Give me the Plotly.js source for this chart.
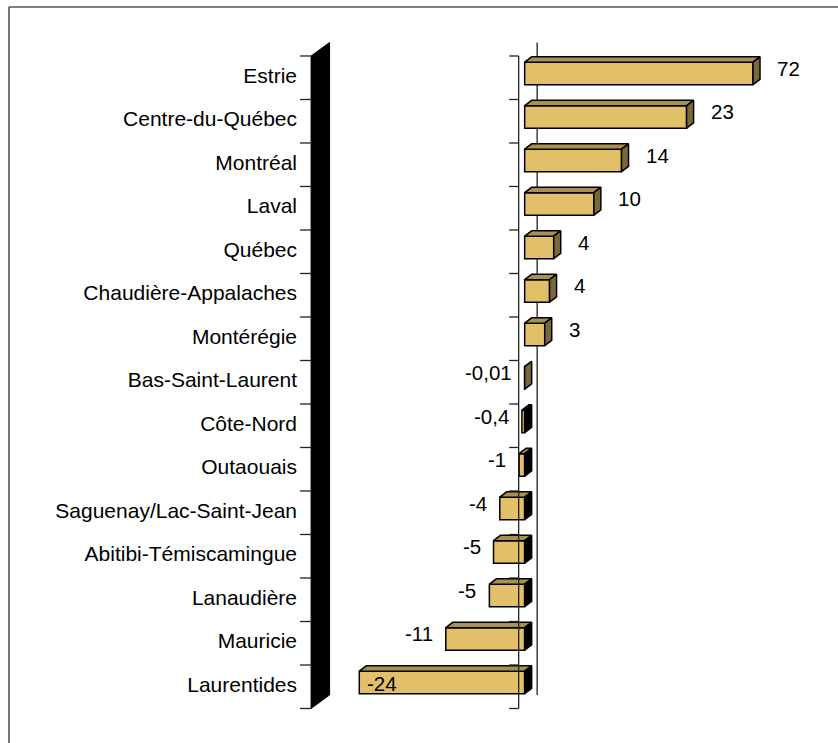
<!DOCTYPE html>
<html><head><meta charset="utf-8">
<script src="https://cdn.plot.ly/plotly-3.0.1.min.js"></script>
<style>html,body{margin:0;padding:0;background:#fff}#chart{width:838px;height:743px}</style>
</head><body><div id="chart"></div>
<script>
const regions = ["Estrie","Centre-du-Québec","Montréal","Laval","Québec","Chaudière-Appalaches","Montérégie","Bas-Saint-Laurent","Côte-Nord","Outaouais","Saguenay/Lac-Saint-Jean","Abitibi-Témiscamingue","Lanaudière","Mauricie","Laurentides"];
const values = [72, 23.4, 14.0, 10.0, 4.2, 3.6, 2.9, -0.01, -0.4, -0.8, -3.6, -4.5, -5.1, -11.4, -23.9];
const valueLabels = ["72","23","14","10","4","4","3","-0,01","-0,4","-1","-4","-5","-5","-11","-24"];

// axis settings
const AXIS_MIN = -30, AXIS_MAX = 33;
const X_RANGE = [-31.6, 46.15];
const Y_RANGE = [15.293, -1.787];
const W = 838, H = 743, ML = 300;
const PW = W - ML, PH = H;
const pxX = PW / (X_RANGE[1] - X_RANGE[0]);
const pxY = PH / (Y_RANGE[0] - Y_RANGE[1]);
const dx = p => p / pxX;          // pixels right -> value units
const dy = p => -p / pxY;         // pixels up -> category units

const FRONT = '#E2C06A', TOP = '#A89050', SIDE_POS = '#7A6838', SIDE_NEG = '#000000';
const FONT = 'Liberation Sans, Arial, sans-serif';

const n = regions.length;
const idx = regions.map((_, i) => i);
const BF = {x: dx(6), y: dy(4.3)};     // bar front plane offset
const BD = {x: dx(7), y: dy(5.4)};     // bar depth
const DEPTH = {x: dx(18.5), y: dy(13.5)}; // full chart depth
const HALF = 11.25 / pxY;
const clamp = v => Math.max(AXIS_MIN, Math.min(AXIS_MAX, v));

const topX = [], topY = [], sposX = [], sposY = [], snegX = [], snegY = [];
values.forEach((v, i) => {
  const c = clamp(v);
  const x0 = Math.min(0, c) + BF.x, x1 = Math.max(0, c) + BF.x;
  const yt = i + BF.y - HALF, yb = i + BF.y + HALF;
  topX.push(x0, x1, x1 + BD.x, x0 + BD.x, x0, null);
  topY.push(yt, yt, yt + BD.y, yt + BD.y, yt, null);
  const sx = (v <= -0.1) ? snegX : sposX, sy = (v <= -0.1) ? snegY : sposY;
  sx.push(x1, x1 + BD.x, x1 + BD.x, x1, x1, null);
  sy.push(yt, yt + BD.y, yb + BD.y, yb, yt, null);
});

const poly = (x, y, color) => ({type: 'scatter', mode: 'lines', x, y, fill: 'toself', fillcolor: color,
  line: {color: '#000', width: 1.5}, hoverinfo: 'skip', showlegend: false});

const traces = [
  {type: 'bar', orientation: 'h', y: idx.map(i => i + BF.y), x: values.map(clamp), base: BF.x,
   width: 2 * HALF, marker: {color: FRONT, line: {color: '#000', width: 1.5}}, hoverinfo: 'skip', showlegend: false},
  poly(topX, topY, TOP),
  poly(sposX, sposY, SIDE_POS),
  poly(snegX, snegY, SIDE_NEG)
];

const shapes = [];
const yTop = -0.5, yBot = n - 0.5;
// wall (floor) at axis minimum
shapes.push({type: 'path', xref: 'x', yref: 'y', layer: 'below', fillcolor: '#000', line: {color: '#000', width: 1},
  path: `M${AXIS_MIN},${yTop} L${AXIS_MIN + DEPTH.x},${yTop + DEPTH.y} L${AXIS_MIN + DEPTH.x},${yBot + DEPTH.y} L${AXIS_MIN},${yBot} Z`});
// back zero line
shapes.push({type: 'line', xref: 'x', yref: 'y', layer: 'below', x0: DEPTH.x, x1: DEPTH.x, y0: yTop + DEPTH.y, y1: yBot + DEPTH.y,
  line: {color: '#222', width: 1.3}});
// front zero line (above bars)
shapes.push({type: 'line', xref: 'x', yref: 'y', layer: 'above', x0: 0, x1: 0, y0: yTop, y1: yBot, line: {color: '#222', width: 1.3}});
for (let k = 0; k <= n; k++) {
  const yk = k - 0.5;
  shapes.push({type: 'line', xref: 'x', yref: 'y', layer: 'above', x0: -dx(9.5), x1: 0, y0: yk, y1: yk, line: {color: '#222', width: 1.3}});
  shapes.push({type: 'line', xref: 'x', yref: 'y', layer: 'below', x0: AXIS_MIN - dx(11), x1: AXIS_MIN, y0: yk, y1: yk, line: {color: '#222', width: 1.3}});
}
// outer chart border (top and left visible)
const px2paperX = p => (p - ML) / PW, px2paperY = p => 1 - p / PH;
shapes.push({type: 'line', xref: 'paper', yref: 'paper', x0: px2paperX(9), x1: px2paperX(860), y0: px2paperY(7), y1: px2paperY(7), line: {color: '#555', width: 1.6}});
shapes.push({type: 'line', xref: 'paper', yref: 'paper', x0: px2paperX(9), x1: px2paperX(9), y0: px2paperY(7), y1: px2paperY(760), line: {color: '#555', width: 1.6}});

// value labels
const annotations = values.map((v, i) => {
  const c = clamp(v);
  const a = {xref: 'x', yref: 'y', y: i + BF.y, yshift: 5, text: valueLabels[i], showarrow: false,
    font: {family: FONT, size: 20.5, color: '#000'}};
  if (v >= 0) {
    a.x = c + BF.x; a.xanchor = 'left'; a.xshift = 22;
  } else {
    const approxW = valueLabels[i].length * 11;
    const leftPx = (c + BF.x - AXIS_MIN) * pxX - 11 - approxW;
    if (leftPx < 18.5) { a.x = c + BF.x; a.xanchor = 'left'; a.xshift = 6; a.yshift = -1; }
    else { a.x = c + BF.x; a.xanchor = 'right'; a.xshift = -11; }
  }
  return a;
});

const layout = {
  width: W, height: H,
  margin: {l: ML, r: 0, t: 0, b: 0},
  paper_bgcolor: '#fff', plot_bgcolor: 'rgba(0,0,0,0)',
  showlegend: false,
  barmode: 'overlay',
  xaxis: {range: X_RANGE, showgrid: false, zeroline: false, showticklabels: false, showline: false, ticks: '', fixedrange: true},
  yaxis: {range: Y_RANGE, showgrid: false, zeroline: false, showline: false, ticks: '', tickmode: 'array',
    tickvals: idx.map(i => i - 0.05), ticktext: regions, ticklabelstandoff: 2,
    tickfont: {family: FONT, size: 21, color: '#000'}, fixedrange: true},
  shapes, annotations
};

Plotly.newPlot('chart', traces, layout, {displayModeBar: false, staticPlot: true});
</script>
</body></html>
